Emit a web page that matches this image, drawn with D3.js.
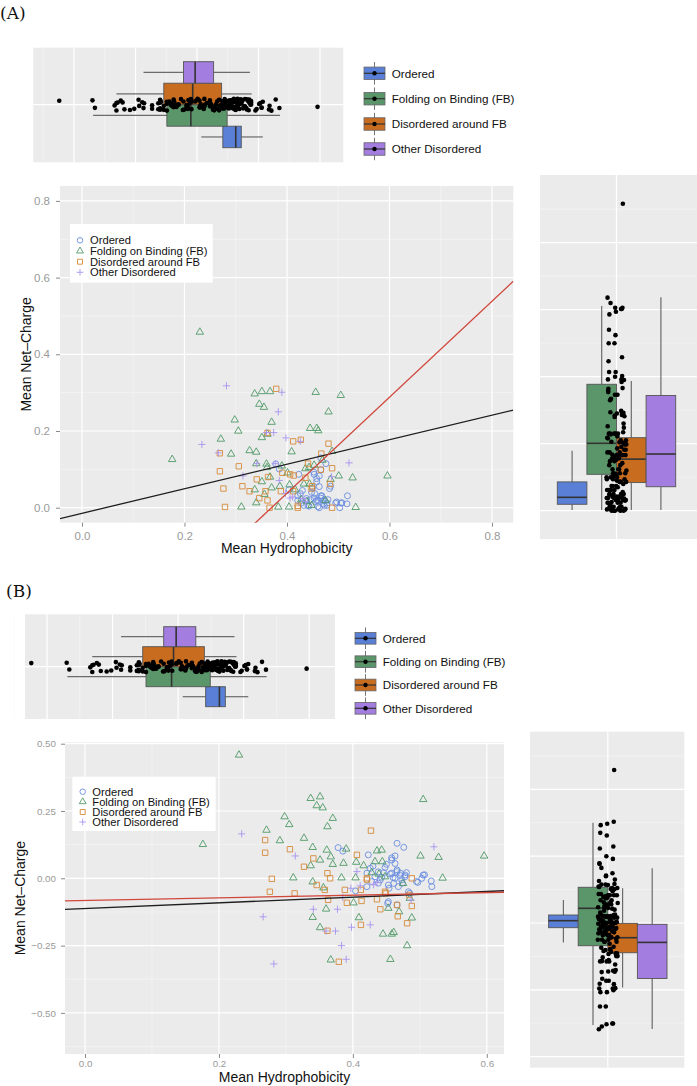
<!DOCTYPE html>
<html><head><meta charset="utf-8">
<script src="https://cdn.jsdelivr.net/npm/d3@7"></script>
<style>body{margin:0;background:#fff}svg{display:block}</style>
</head><body><svg id="c" width="697" height="1086"></svg>
<script>
// ---------------- DATA ----------------
const groups = ["Ordered", "Folding on Binding (FB)", "Disordered around FB", "Other Disordered"];
const boxFill = ["#5A7FD6", "#5A9669", "#C86C20", "#A37DE0"];
const pointColor = ["#6A8DE0", "#4F9A66", "#D68A3A", "#A994EE"];

// [mean hydrophobicity, mean net-charge (signed)]
const ordered = [[0.466,0.130],[0.476,0.115],[0.378,0.114],[0.385,0.101],[0.423,0.087],[0.458,0.076],[0.463,0.083],[0.458,0.068],[0.463,0.055],[0.438,0.024],[0.466,0.031],[0.458,0.019],[0.471,0.019],[0.478,0.012],[0.463,0.000],[0.473,-0.006],[0.461,-0.019],[0.468,-0.031],[0.453,-0.025],[0.505,0.012],[0.503,0.000],[0.495,-0.012],[0.518,-0.031],[0.441,-0.006],[0.433,0.006],[0.421,0.019],[0.485,-0.056],[0.453,-0.087],[0.466,-0.099],[0.426,0.037],[0.446,0.021],[0.456,0.016],[0.480,0.021],[0.443,0.004],[0.460,0.003],[0.478,0.006],[0.507,0.013],[0.497,-0.015],[0.454,-0.037],[0.474,-0.018],[0.404,-0.047],[0.421,-0.031],[0.428,-0.012],[0.438,-0.018],[0.483,-0.050],[0.452,-0.093],[0.466,0.025],[0.471,0.010],[0.430,0.045],[0.448,0.040],[0.517,-0.010],[0.450,0.052]];
const folding = [[0.230,0.458],[0.505,0.293],[0.337,0.297],[0.351,0.303],[0.346,0.270],[0.355,0.262],[0.298,0.229],[0.370,0.223],[0.305,0.200],[0.362,0.192],[0.271,0.179],[0.291,0.140],[0.327,0.149],[0.176,0.126],[0.340,0.115],[0.361,0.105],[0.390,0.109],[0.367,0.080],[0.351,0.068],[0.337,0.047],[0.370,0.052],[0.386,0.056],[0.405,0.060],[0.416,0.047],[0.436,0.102],[0.443,0.105],[0.433,0.062],[0.444,0.062],[0.501,0.083],[0.528,0.078],[0.596,0.083],[0.311,0.002],[0.340,-0.013],[0.383,0.002],[0.404,0.002],[0.534,0.001],[0.356,-0.035],[0.401,-0.091],[0.360,-0.114],[0.453,-0.111],[0.469,-0.124],[0.488,-0.147],[0.340,-0.145],[0.409,-0.146],[0.485,-0.074],[0.428,0.021],[0.439,0.016],[0.448,0.006],[0.475,-0.019],[0.351,-0.183],[0.445,-0.207],[0.458,-0.207],[0.461,-0.201],[0.481,-0.250],[0.367,-0.303],[0.456,-0.301]];
const disorderedFB = [[0.427,0.177],[0.269,0.142],[0.269,0.095],[0.306,0.108],[0.341,0.074],[0.327,0.043],[0.406,0.087],[0.362,0.019],[0.366,0.000],[0.279,-0.002],[0.346,-0.025],[0.358,-0.043],[0.276,-0.050],[0.313,-0.056],[0.388,-0.043],[0.412,-0.043],[0.421,-0.005],[0.363,-0.080],[0.391,-0.091],[0.413,-0.084],[0.436,-0.078],[0.449,-0.056],[0.488,0.000],[0.484,-0.062],[0.466,-0.099],[0.488,-0.103],[0.441,-0.115],[0.467,-0.141],[0.481,-0.167],[0.412,-0.173],[0.362,-0.195],[0.379,-0.310],[0.448,-0.050],[0.421,0.000]];
const otherDisordered = [[0.234,0.165],[0.314,0.083],[0.521,0.117],[0.406,0.025],[0.397,-0.037],[0.411,-0.028],[0.431,-0.024],[0.436,-0.016],[0.385,-0.071],[0.341,-0.115],[0.377,-0.115],[0.266,-0.143],[0.398,-0.182],[0.426,-0.173],[0.360,-0.196],[0.374,-0.196],[0.383,-0.250],[0.390,-0.301],[0.282,-0.318],[0.487,-0.081]];

// box stats per group: [lower whisker, q1, median, q3, upper whisker]
const hydroStats = [[0.407,0.442,0.463,0.472,0.507],[0.231,0.351,0.390,0.449,0.535],[0.269,0.346,0.393,0.440,0.489],[0.313,0.378,0.397,0.427,0.486]];
const chargeStatsAbs = [[0.001,0.0096,0.020,0.043,0.0896],[0.001,0.0543,0.1006,0.1887,0.3055],[0.001,0.042,0.077,0.109,0.1936],[0.001,0.0358,0.0846,0.172,0.3185]];
const chargeStatsSigned = [[-0.058,-0.014,0.007,0.024,0.069],[-0.305,-0.068,0.044,0.107,0.300],[-0.193,-0.089,-0.044,-0.001,0.104],[-0.317,-0.166,-0.058,-0.004,0.164]];

// fitted lines: [intercept, slope]
const fitNames = ["black", "red"];
const fitLinesA = [[-0.0146, 0.320], [-0.463, 1.252]];
const fitLinesB = [[-0.112, 0.105], [-0.0825, 0.049]];

// ticks
const xTicksA = [0, 0.2, 0.4, 0.6, 0.8];
const yTicksA = [0, 0.2, 0.4, 0.6, 0.8];
const xTicksB = [0, 0.2, 0.4, 0.6];
const yTicksB = [-0.5, -0.25, 0, 0.25, 0.5];

// ---------------- DRAW ----------------
const svg = d3.select("#c");
const BG = "#EBEBEB", FONT = "Liberation Sans, Arial, Helvetica, sans-serif";
const lineColor = {black: "#1e1e1e", red: "#D0473C"};
const series = [ordered, folding, disorderedFB, otherDisordered];
const pts = [];
series.forEach((arr, g) => arr.forEach(p => pts.push({g, x: p[0], y: p[1]})));
const jitter = i => ((i * 0.6180339887) % 1) - 0.5;

function shapePath(g, s) {
  if (g === 0) { const r = s * 0.5; return `M${r},0A${r},${r} 0 1,1 ${-r},0A${r},${r} 0 1,1 ${r},0Z`; }
  if (g === 1) { const a = s * 0.62, h = a * 0.866 * 2; return `M0,${-h*2/3}L${a},${h/3}L${-a},${h/3}Z`; }
  if (g === 2) { const a = s * 0.45; return `M${-a},${-a}H${a}V${a}H${-a}Z`; }
  const a = s * 0.6; return `M${-a},0H${a}M0,${-a}V${a}`;
}

function hline(g, x1, x2, y, color, w) { g.append("line").attr("x1", x1).attr("x2", x2).attr("y1", y).attr("y2", y).attr("stroke", color).attr("stroke-width", w); }
function vline(g, x, y1, y2, color, w) { g.append("line").attr("x1", x).attr("x2", x).attr("y1", y1).attr("y2", y2).attr("stroke", color).attr("stroke-width", w); }

function mainPanel(c) {
  const x = d3.scaleLinear().domain(c.xDom).range([c.L, c.R]);
  const y = d3.scaleLinear().domain(c.yDom).range([c.B, c.T]);
  const g = svg.append("g");
  g.append("rect").attr("x", c.L).attr("y", c.T).attr("width", c.R - c.L).attr("height", c.B - c.T).attr("fill", BG);
  c.xMinor.forEach(v => vline(g, x(v), c.T, c.B, "#F6F6F6", 0.6));
  c.yMinor.forEach(v => { if (v > c.yDom[0] && v < c.yDom[1]) hline(g, c.L, c.R, y(v), "#F6F6F6", 0.6); });
  c.xTicks.forEach(v => vline(g, x(v), c.T, c.B, "#fff", 1.2));
  c.yTicks.forEach(v => hline(g, c.L, c.R, y(v), "#fff", 1.2));
  svg.append("clipPath").attr("id", "clip" + c.id).append("rect").attr("x", c.L).attr("y", c.T).attr("width", c.R - c.L).attr("height", c.B - c.T);
  const pg = g.append("g").attr("clip-path", `url(#clip${c.id})`);
  pg.selectAll("path.pt").data(pts).join("path").attr("class", "pt")
    .attr("transform", d => `translate(${x(d.x)},${y(c.abs ? Math.abs(d.y) : d.y)})`)
    .attr("d", d => shapePath(d.g, 6))
    .attr("fill", "none").attr("stroke", d => pointColor[d.g]).attr("stroke-width", 0.9);
  c.fits.forEach((f, i) => {
    const x0 = c.xDom[0], x1 = c.xDom[1];
    pg.append("line").attr("x1", x(x0)).attr("y1", y(f[0] + f[1] * x0)).attr("x2", x(x1)).attr("y2", y(f[0] + f[1] * x1))
      .attr("stroke", lineColor[fitNames[i]]).attr("stroke-width", 1.3);
  });
  // axes
  const ax = g.append("g").attr("transform", `translate(0,${c.B})`)
    .call(d3.axisBottom(x).tickValues(c.xTicks).tickFormat(d3.format(c.xFmt)).tickSize(4).tickPadding(c.xPad));
  const ay = g.append("g").attr("transform", `translate(${c.L},0)`)
    .call(d3.axisLeft(y).tickValues(c.yTicks).tickFormat(d3.format(c.yFmt)).tickSize(4).tickPadding(c.yPad));
  [ax, ay].forEach(a => { a.select(".domain").remove(); a.selectAll("line").attr("stroke", "#8a8a8a"); a.selectAll("text").attr("fill", "#9a9a9a").style("font-family", FONT).style("font-size", c.tickFont + "px"); });
  g.append("text").attr("x", (c.L + c.R) / 2).attr("y", c.xTitleY).attr("text-anchor", "middle")
    .style("font-family", FONT).style("font-size", c.titleFont + "px").attr("fill", "#111").text("Mean Hydrophobicity");
  g.append("text").attr("transform", `translate(${c.yTitleX},${(c.T + c.B) / 2}) rotate(-90)`).attr("text-anchor", "middle")
    .style("font-family", FONT).style("font-size", c.titleFont + "px").attr("fill", "#111").text("Mean Net\u2013Charge");
  // legend
  const lg = g.append("g");
  lg.append("rect").attr("x", c.leg.x).attr("y", c.leg.y).attr("width", c.leg.w).attr("height", c.leg.h).attr("fill", "#fff");
  groups.forEach((name, i) => {
    const yy = c.leg.rows[i];
    lg.append("path").attr("transform", `translate(${c.leg.sx},${yy})`).attr("d", shapePath(i, 5.5))
      .attr("fill", "none").attr("stroke", pointColor[i]).attr("stroke-width", 0.9);
    lg.append("text").attr("x", c.leg.tx).attr("y", yy + 3.9).style("font-family", FONT).style("font-size", "11.2px").attr("fill", "#111").text(name);
  });
}

function boxLegend(c) {
  const g = svg.append("g");
  groups.forEach((name, i) => {
    const cy = c.rows[i], x0 = c.x, w = c.w, h = c.h;
    vline(g, x0 + w / 2, cy - h / 2 - 5, cy + h / 2 + 5, "#777", 1);
    g.append("rect").attr("x", x0).attr("y", cy - h / 2).attr("width", w).attr("height", h).attr("fill", boxFill[i]).attr("stroke", "#666").attr("stroke-width", 0.8);
    hline(g, x0, x0 + w, cy, "#333", 1.2);
    g.append("circle").attr("cx", x0 + w / 2).attr("cy", cy).attr("r", 2.2).attr("fill", "#000");
    g.append("text").attr("x", c.tx).attr("y", cy + 4.2).style("font-family", FONT).style("font-size", "11.7px").attr("fill", "#111").text(name);
  });
}

function topMarginal(c) {
  const x = d3.scaleLinear().domain(c.xDom).range([c.L, c.R]);
  const band = d3.scaleBand().domain([3, 2, 1, 0]).range([c.cy - 2 * c.bw, c.cy + 2 * c.bw]);
  const g = svg.append("g");
  g.append("rect").attr("x", c.L).attr("y", c.T).attr("width", c.R - c.L).attr("height", c.B - c.T).attr("fill", BG);
  [0.15, 0.25, 0.35, 0.45, 0.55].forEach(v => vline(g, x(v), c.T, c.B, "#F6F6F6", 0.6));
  [0.2, 0.3, 0.4, 0.5, 0.6].forEach(v => vline(g, x(v), c.T, c.B, "#fff", 1.2));
  hline(g, c.L, c.R, c.cy, "#fff", 1.2);
  hydroStats.forEach((s, i) => {
    const y0 = band(i), h = band.bandwidth(), ym = y0 + h / 2;
    hline(g, x(s[0]), x(s[1]), ym, "#6b6b6b", 1.2);
    hline(g, x(s[3]), x(s[4]), ym, "#6b6b6b", 1.2);
    g.append("rect").attr("x", x(s[1])).attr("y", y0).attr("width", x(s[3]) - x(s[1])).attr("height", h)
      .attr("fill", boxFill[i]).attr("stroke", "#555").attr("stroke-width", 0.9);
    vline(g, x(s[2]), y0, y0 + h, "#333", 1.6);
  });
  g.selectAll("circle.d").data(pts).join("circle").attr("class", "d")
    .attr("cx", d => x(d.x)).attr("cy", (d, i) => c.cy + jitter(i) * c.jw).attr("r", 2.3).attr("fill", "#000");
}

function rightMarginal(c) {
  const y = d3.scaleLinear().domain(c.yDom).range([c.B, c.T]);
  const band = d3.scaleBand().domain([0, 1, 2, 3]).range([c.cx - 2 * c.bw, c.cx + 2 * c.bw]);
  const g = svg.append("g");
  g.append("rect").attr("x", c.L).attr("y", c.T).attr("width", c.R - c.L).attr("height", c.B - c.T).attr("fill", BG);
  c.minor.forEach(v => hline(g, c.L, c.R, y(v), "#F6F6F6", 0.6));
  c.major.forEach(v => hline(g, c.L, c.R, y(v), "#fff", 1.2));
  vline(g, c.cx, c.T, c.B, "#fff", 1.2);
  c.stats.forEach((s, i) => {
    const x0 = band(i), w = band.bandwidth(), xm = x0 + w / 2;
    vline(g, xm, y(s[0]), y(s[1]), "#6b6b6b", 1.2);
    vline(g, xm, y(s[3]), y(s[4]), "#6b6b6b", 1.2);
    g.append("rect").attr("x", x0).attr("y", y(s[3])).attr("width", w).attr("height", y(s[1]) - y(s[3]))
      .attr("fill", boxFill[i]).attr("stroke", "#555").attr("stroke-width", 0.9);
    hline(g, x0, x0 + w, y(s[2]), "#333", 1.6);
  });
  g.selectAll("circle.d").data(pts).join("circle").attr("class", "d")
    .attr("cx", (d, i) => c.cx + jitter(i * 7 + 3) * c.jw).attr("cy", d => y(c.abs ? Math.abs(d.y) : d.y)).attr("r", 2.3).attr("fill", "#000");
}

// ----- Panel labels -----
svg.append("text").attr("x", 0).attr("y", 19).style("font-family", "DejaVu Serif, Liberation Serif, serif").style("font-size", "17px").attr("fill", "#111").text("(A)");
svg.append("text").attr("x", 6).attr("y", 597).style("font-family", "DejaVu Serif, Liberation Serif, serif").style("font-size", "17px").attr("fill", "#111").text("(B)");

// ----- Panel A -----
topMarginal({L: 33.3, R: 343.3, T: 47.7, B: 162.3, xDom: [0.1338, 0.6379], cy: 104.7, bw: 21.5, jw: 12});
boxLegend({x: 364, w: 21, h: 12.5, rows: [73.3, 98.7, 124, 149], tx: 391.7});
mainPanel({id: "A", L: 60, R: 513.3, T: 186, B: 522.7, xDom: [-0.0429, 0.8416], yDom: [-0.0391, 0.8389], abs: true,
  xTicks: xTicksA, yTicks: yTicksA, xMinor: [0.1, 0.3, 0.5, 0.7], yMinor: [0.1, 0.3, 0.5, 0.7], fits: fitLinesA,
  xFmt: ".1f", yFmt: ".1f", xPad: 5, yPad: 6, tickFont: 11.5, titleFont: 14, xTitleY: 553, yTitleX: 30.5,
  leg: {x: 70, y: 224, w: 142.7, h: 58.7, rows: [240.3, 251, 261.7, 272.3], sx: 80, tx: 90}});
rightMarginal({L: 540, R: 697, T: 175, B: 539, yDom: [-0.0422, 0.5010], cx: 616.5, bw: 29.6, jw: 20, abs: true,
  major: [0, 0.1, 0.2, 0.3, 0.4], minor: [0.05, 0.15, 0.25, 0.35, 0.45], stats: chargeStatsAbs});

// ----- Panel B -----
topMarginal({L: 25, R: 335, T: 614.3, B: 719, xDom: [0.1664, 0.6393], cy: 666.7, bw: 20, jw: 11});
boxLegend({x: 355, w: 21, h: 11.7, rows: [638.3, 661.7, 685, 708.3], tx: 382.7});
mainPanel({id: "B", L: 65, R: 504, T: 742.3, B: 1054, xDom: [-0.0299, 0.6257], yDom: [-0.6527, 0.5052], abs: false,
  xTicks: xTicksB, yTicks: yTicksB, xMinor: [0.1, 0.3, 0.5], yMinor: [-0.625, -0.375, -0.125, 0.125, 0.375], fits: fitLinesB,
  xFmt: ".1f", yFmt: ".2f", xPad: 2, yPad: 5, tickFont: 9.8, titleFont: 14, xTitleY: 1081.5, yTitleX: 24.5,
  leg: {x: 72.3, y: 776.7, w: 143.4, h: 54.3, rows: [791.7, 801.7, 812, 822], sx: 82.7, tx: 92.3}});
rightMarginal({L: 530, R: 684.3, T: 731.7, B: 1067.7, yDom: [-0.4332, 0.5728], cx: 607.8, bw: 29.6, jw: 20, abs: false,
  major: [-0.4, -0.2, 0, 0.2, 0.4], minor: [-0.3, -0.1, 0.1, 0.3, 0.5], stats: chargeStatsSigned});
</script></body></html>
